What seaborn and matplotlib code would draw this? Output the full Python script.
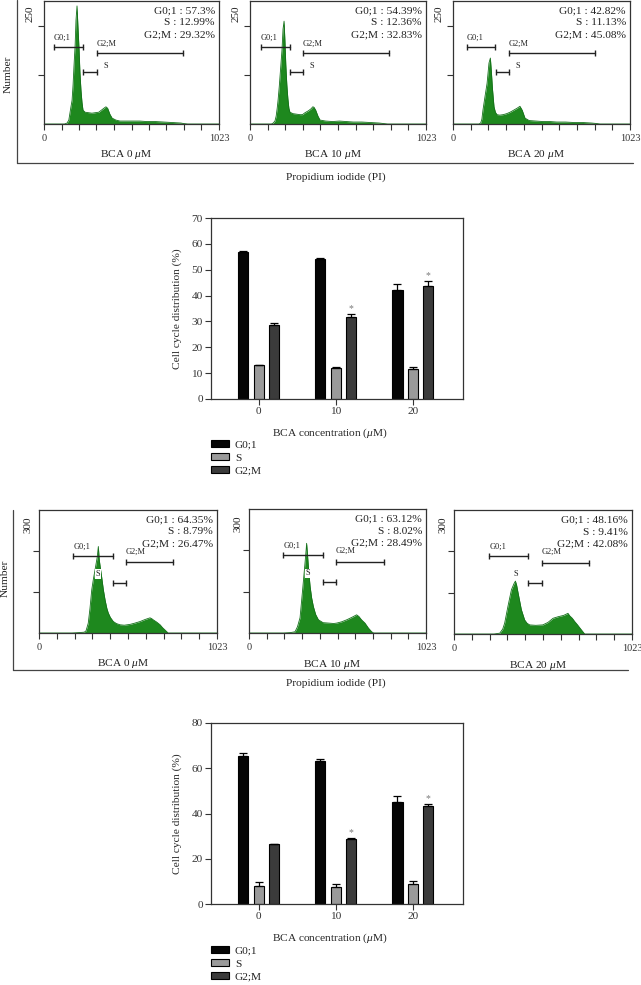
import numpy as np
import pandas as pd
import matplotlib
matplotlib.use("Agg")
import matplotlib.pyplot as plt
import matplotlib.patches as mpatches
from matplotlib.lines import Line2D
import seaborn as sns

sns.set_style("ticks")
plt.rcParams["font.family"] = ["Liberation Serif", "DejaVu Serif"]
plt.rcParams["mathtext.fontset"] = "custom"
plt.rcParams["mathtext.rm"] = "Liberation Serif"
plt.rcParams["mathtext.it"] = "Liberation Serif:italic"
plt.rcParams["axes.edgecolor"] = "#333333"
plt.rcParams["axes.linewidth"] = 0.9
plt.rcParams["xtick.color"] = "#333333"
plt.rcParams["ytick.color"] = "#333333"
plt.rcParams["text.color"] = "#222222"

# ---------------- data ----------------
phases = ["G0;1", "S", "G2;M"]
concentrations = ["0", "10", "20"]
panel_titles = [r"BCA 0 $\mu$M", r"BCA 10 $\mu$M", r"BCA 20 $\mu$M"]

# Experiment A histograms (PI channel 0-1023, counts)
h1_x = [0, 120, 135, 145, 152, 158, 164, 170, 175, 182, 187, 193, 198, 205, 210, 216, 222, 228, 240, 260, 280, 300, 320, 335, 350, 362, 372, 385, 398, 420, 444, 480, 520, 560, 600, 650, 700, 750, 800, 815, 840, 1023]
h1_y = [0, 0, 2, 8, 23, 36, 48, 80, 116, 161, 211, 240, 201, 151, 105, 69, 44, 28, 24, 23, 22, 23, 24, 28, 32, 35, 32, 20, 12, 8, 6, 6, 6, 6, 5, 5, 4, 3, 2, 1, 0, 0]
h2_x = [0, 125, 135, 145, 152, 158, 163, 170, 178, 186, 192, 198, 203, 208, 214, 220, 226, 232, 250, 270, 290, 305, 320, 340, 355, 365, 372, 382, 395, 407, 440, 480, 520, 560, 600, 650, 700, 750, 775, 800, 1023]
h2_y = [0, 0, 2, 6, 16, 32, 48, 76, 113, 151, 193, 209, 169, 121, 80, 52, 32, 24, 21, 20, 19, 19, 23, 27, 31, 35, 34, 28, 16, 8, 6, 5, 6, 5, 4, 4, 3, 2, 1, 0, 0]
h3_x = [0, 150, 160, 167, 173, 185, 197, 208, 216, 222, 228, 237, 245, 254, 270, 290, 310, 330, 350, 370, 387, 400, 416, 440, 480, 520, 560, 600, 650, 700, 750, 800, 830, 850, 1023]
h3_y = [0, 0, 2, 10, 28, 56, 83, 124, 134, 105, 72, 35, 24, 19, 18, 19, 21, 24, 28, 32, 36, 28, 12, 7, 6, 5, 5, 4, 4, 3, 3, 2, 1, 0, 0]

# Experiment B histograms
h4_x = [0, 190, 230, 260, 270, 283, 293, 303, 312, 322, 335, 341, 346, 352, 360, 370, 380, 390, 398, 410, 427, 445, 466, 490, 523, 550, 581, 610, 638, 648, 657, 675, 696, 710, 725, 742, 1023]
h4_y = [0, 0, 1, 2, 5, 24, 60, 105, 130, 154, 186, 211, 180, 160, 137, 105, 80, 60, 49, 38, 28, 23, 20, 19, 21, 24, 28, 33, 37, 35, 32, 27, 20, 13, 7, 0, 0]
h5_x = [0, 200, 240, 266, 280, 295, 310, 324, 330, 333, 338, 345, 353, 362, 372, 385, 401, 428, 460, 490, 507, 535, 565, 595, 622, 635, 650, 670, 690, 709, 720, 1023]
h5_y = [0, 0, 1, 3, 15, 37, 105, 171, 200, 217, 190, 150, 113, 85, 64, 45, 32, 25, 24, 23, 24, 27, 32, 38, 44, 40, 32, 24, 12, 3, 0, 0]
h6_x = [0, 230, 263, 280, 291, 310, 330, 345, 353, 360, 368, 387, 406, 420, 435, 470, 510, 540, 569, 600, 630, 655, 665, 680, 694, 710, 732, 751, 1023]
h6_y = [0, 0, 2, 12, 26, 67, 107, 122, 128, 118, 100, 59, 34, 26, 22, 21, 22, 28, 38, 42, 45, 50, 44, 38, 30, 22, 10, 0, 0]

# Gates (G0;1 lo/hi, S lo/hi, G2;M lo/hi) on PI scale
gates_A = [(58, 228, 228, 310, 310, 813), (64, 233, 233, 308, 308, 808), (81, 243, 248, 324, 324, 821)]
gates_B = [(197, 424, 424, 498, 498, 772), (198, 426, 426, 503, 503, 780), (202, 427, 427, 503, 503, 776)]

# Percentages shown in histograms
stats_A_g01 = ["57.3%", "54.39%", "42.82%"]
stats_A_s = ["12.99%", "12.36%", "11.13%"]
stats_A_g2m = ["29.32%", "32.83%", "45.08%"]
stats_B_g01 = ["64.35%", "63.12%", "48.16%"]
stats_B_s = ["8.79%", "8.02%", "9.41%"]
stats_B_g2m = ["26.47%", "28.49%", "42.08%"]

# Bar chart A
barA_g01 = [56.8, 54.0, 42.1]
barA_g01_err = [0.5, 0.4, 2.2]
barA_s = [13.0, 12.1, 11.6]
barA_s_err = [0.3, 0.3, 0.6]
barA_g2m = [28.6, 31.8, 43.7]
barA_g2m_err = [0.6, 1.0, 2.0]
# Bar chart B
barB_g01 = [65.3, 63.4, 44.9]
barB_g01_err = [1.5, 0.6, 2.9]
barB_s = [8.1, 7.4, 8.7]
barB_s_err = [1.8, 1.4, 1.4]
barB_g2m = [26.3, 28.7, 43.1]
barB_g2m_err = [0.3, 0.5, 1.0]
significant = [False, True, True]

bar_colors = ["#050505", "#9a9a9a", "#3b3b3b"]
green = "#1e881e"

# ---------------- layout ----------------
W, H = 641, 985
fig = plt.figure(figsize=(W / 100, H / 100), dpi=100)


def rect(l, t, r, b):
    return [l / W, 1 - b / H, (r - l) / W, (b - t) / H]


def fig_line(x0, y0, x1, y1):
    fig.add_artist(Line2D([x0 / W, x1 / W], [1 - y0 / H, 1 - y1 / H],
                          transform=fig.transFigure, color="#444444", lw=0.9))


def draw_hist(ax, xs, ys, ymax, ytop_label, ytop_off, gates, g01, s, g2m, title,
              lower, s_label_x=None):
    ax.fill_between(xs, ys, 0, color=green, lw=0)
    sns.lineplot(x=xs, y=ys, ax=ax, color="#14701a", lw=0.6, estimator=None, sort=False)
    ax.set_xlim(0, 1023)
    ax.set_ylim(0, ymax)
    xt = np.linspace(0, 1023, 11)
    ax.set_xticks(xt)
    ax.set_xticklabels(["0"] + [""] * 9 + ["1023"], fontsize=7.5)
    ax.set_yticks([100, 200])
    ax.set_yticklabels([])
    ax.tick_params(axis="both", direction="out", length=4, width=0.8, pad=3)
    ax.set_xlabel("")
    ax.set_ylabel("")
    for sp in ax.spines.values():
        sp.set_visible(True)
        sp.set_color("#333333")
        sp.set_linewidth(0.9)
    ax.text(-ytop_off, 1.0 - (0.035 if not lower else 0.055), ytop_label, rotation=90,
            transform=ax.transAxes, ha="center", va="top", fontsize=8)
    # stats
    for i, t in enumerate([f"G0;1 : {g01}", f"S : {s}", f"G2;M : {g2m}"]):
        ax.text(0.977, 0.919 - i * 0.097, t, transform=ax.transAxes, ha="right",
                va="center", fontsize=8.2)
    # gates
    g0lo, g0hi, slo, shi, glo, ghi = gates
    if not lower:
        yg0, ys_, yg2 = 156, 106, 144
        lg0, lg2, ls = 175, 163, 118
    else:
        yg0, ys_, yg2 = 189, 123, 172
        lg0, lg2, ls = 211, 199, 144
    kw = dict(color="#222222", lw=1.0, marker="|", markersize=4.5, markeredgewidth=1.0)
    ax.plot([g0lo, g0hi], [yg0, yg0], **kw)
    ax.plot([slo, shi], [ys_, ys_], **kw)
    ax.plot([glo, ghi], [yg2, yg2], **kw)
    ax.text(g0lo, lg0, "G0;1", fontsize=6, ha="left", va="center")
    ax.text(glo, lg2, "G2;M", fontsize=6, ha="left", va="center")
    if not lower:
        ax.text(shi + 40, ls, "S", fontsize=6, ha="left", va="center")
    else:
        ax.text(s_label_x, ls, "S", fontsize=6, ha="center", va="center",
                bbox=dict(facecolor="white", edgecolor="none", pad=0.6))
    ax.text(0.47, -0.252, title, transform=ax.transAxes, ha="center", va="center",
            fontsize=8.2)


# ---------- Experiment A histograms ----------
fig_line(17, 0, 17, 163)
fig_line(17, 163, 633, 163)
fig.text(8 / W, 1 - 74 / H, "Number", rotation=90, ha="center", va="center", fontsize=8.2)
fig.text(336 / W, 1 - 177 / H, "Propidium iodide (PI)", ha="center", va="center", fontsize=8.2)

posA = [(44, 1, 219, 124), (250, 1, 426, 124), (453, 1, 630, 124)]
histA = [(h1_x, h1_y), (h2_x, h2_y), (h3_x, h3_y)]
for i in range(3):
    ax = fig.add_axes(rect(*posA[i]))
    draw_hist(ax, histA[i][0], histA[i][1], 250, "250", 0.08, gates_A[i],
              stats_A_g01[i], stats_A_s[i], stats_A_g2m[i], panel_titles[i], False)

# ---------- Experiment B histograms ----------
fig_line(13, 510, 13, 670)
fig_line(13, 670, 628, 670)
fig.text(5 / W, 1 - 578 / H, "Number", rotation=90, ha="center", va="center", fontsize=8.2)
fig.text(336 / W, 1 - 683 / H, "Propidium iodide (PI)", ha="center", va="center", fontsize=8.2)

posB = [(39, 510, 217, 633), (249, 509, 426, 633), (454, 510, 632, 634)]
histB = [(h4_x, h4_y), (h5_x, h5_y), (h6_x, h6_y)]
s_label_xs = [339, 339, 353]
for i in range(3):
    ax = fig.add_axes(rect(*posB[i]))
    draw_hist(ax, histB[i][0], histB[i][1], 300, "300", 0.062, gates_B[i],
              stats_B_g01[i], stats_B_s[i], stats_B_g2m[i], panel_titles[i], True,
              s_label_x=s_label_xs[i])


# ---------- bar charts ----------
def draw_bars(ax, g01, g01e, s, se, g2m, g2me, ymax, ystep, legend_top):
    df = pd.DataFrame({
        "conc": concentrations * 3,
        "phase": [p for p in phases for _ in concentrations],
        "value": g01 + s + g2m,
    })
    errs = {"G0;1": g01e, "S": se, "G2;M": g2me}
    sns.barplot(data=df, x="conc", y="value", hue="phase", order=concentrations,
                hue_order=phases, palette=bar_colors, width=0.6, gap=0.35,
                edgecolor="black", linewidth=0.8, errorbar=None, legend=False, ax=ax)
    for cont, ph in zip(ax.containers, phases):
        for bar, e, sig in zip(cont, errs[ph], significant):
            xc = bar.get_x() + bar.get_width() / 2
            top = bar.get_height()
            ax.errorbar([xc], [top], yerr=[[0], [e]], fmt="none", ecolor="black",
                        elinewidth=0.9, capsize=3, capthick=0.9, zorder=5)
            if ph == "G2;M" and sig:
                ax.text(xc, top + e + 0.4, "*", ha="center", va="bottom",
                        fontsize=7, color="#7a7a7a")
    ax.set_xlim(-0.62, 2.65)
    ax.set_ylim(0, ymax)
    ax.set_yticks(np.arange(0, ymax + 1, ystep))
    ax.tick_params(axis="both", direction="out", length=4, width=0.8, labelsize=8.2, pad=2)
    for sp in ax.spines.values():
        sp.set_visible(True)
        sp.set_color("#333333")
        sp.set_linewidth(0.9)
    ax.set_ylabel("Cell cycle distribution (%)", fontsize=8.2)
    ax.set_xlabel(r"BCA concentration ($\mu$M)", fontsize=8.2)
    ax.yaxis.set_label_coords(-29 / 252, 0.5)
    ax.xaxis.set_label_coords(0.472, -0.15)
    handles = [mpatches.Patch(facecolor=c, edgecolor="black", lw=0.8) for c in bar_colors]
    fig.legend(handles, phases, loc="upper left",
               bbox_to_anchor=(211 / W, 1 - legend_top / H), frameon=False,
               fontsize=8.2, handlelength=1.6, handleheight=0.6, handletextpad=0.5,
               labelspacing=0.3, borderpad=0, borderaxespad=0)


axA = fig.add_axes(rect(211, 218, 463, 399))
draw_bars(axA, barA_g01, barA_g01_err, barA_s, barA_s_err, barA_g2m, barA_g2m_err,
          70, 10, 440)

axB = fig.add_axes(rect(211, 723, 463, 904))
draw_bars(axB, barB_g01, barB_g01_err, barB_s, barB_s_err, barB_g2m, barB_g2m_err,
          80, 20, 946)

fig.savefig("out.png", dpi=100)
